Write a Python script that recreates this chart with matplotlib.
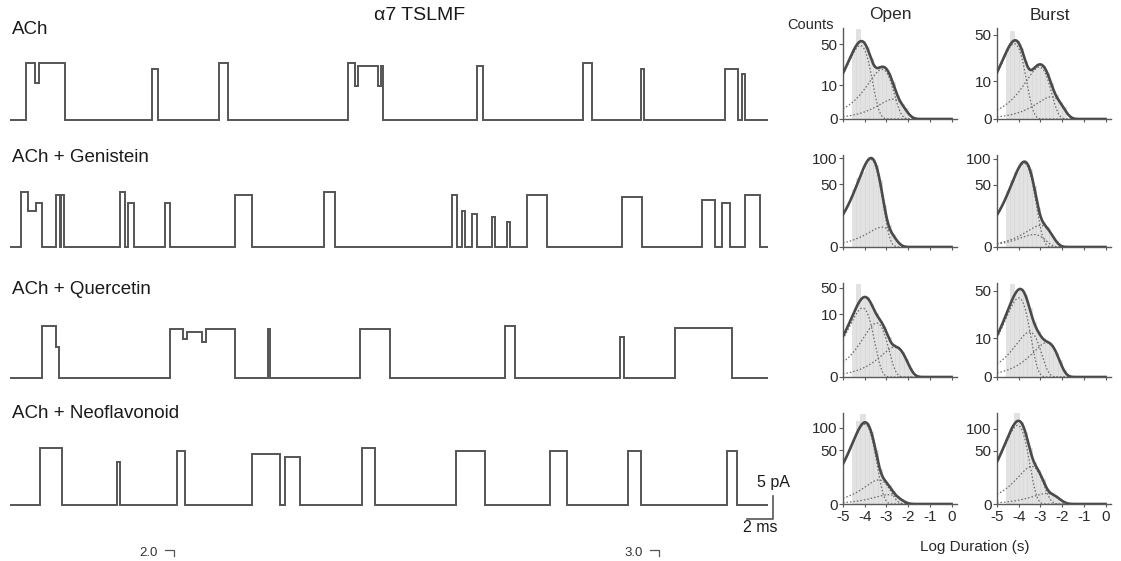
import numpy as np
import matplotlib.pyplot as plt

plt.rcParams['font.family'] = ['Liberation Sans', 'DejaVu Sans']
plt.rcParams['axes.unicode_minus'] = False

W, H = 1121, 561
fig = plt.figure(figsize=(W / 100, H / 100), dpi=100)


def px_axes(x0, y0, x1, y1):
    # axes placed by pixel box (left, top, right, bottom)
    return fig.add_axes([x0 / W, 1 - y1 / H, (x1 - x0) / W, (y1 - y0) / H])


# ---------------- single-channel traces ----------------
# openings: (start ms, end ms, fraction of full amplitude)
trace_names = ["ACh", "ACh + Genistein", "ACh + Quercetin", "ACh + Neoflavonoid"]
trace_amp = [12.4, 12.0, 11.2, 12.4]  # pA
trace_len = 58.3  # ms

ach_events = [(1.23, 1.9, 1.0), (1.9, 2.2, 0.65), (2.2, 4.23, 1.0),
              (10.9, 11.4, 0.9), (16.1, 16.8, 1.0),
              (26.0, 26.5, 1.0), (26.5, 26.8, 0.6), (26.8, 28.3, 0.95),
              (28.3, 28.5, 0.6), (28.5, 28.7, 0.95),
              (35.9, 36.4, 0.95), (44.1, 44.8, 1.0), (48.5, 48.8, 0.9),
              (55.0, 56.0, 0.9), (56.3, 56.5, 0.8)]
gen_events = [(0.85, 1.4, 1.0), (1.4, 2.0, 0.65), (2.0, 2.46, 0.8),
              (3.54, 3.85, 0.95), (3.92, 4.15, 0.95),
              (8.46, 8.85, 1.0), (9.08, 9.54, 0.8), (11.92, 12.31, 0.8),
              (17.31, 18.62, 0.95), (24.15, 25.0, 1.0),
              (34.0, 34.4, 0.95), (34.77, 35.0, 0.65), (35.54, 35.92, 0.6),
              (37.08, 37.31, 0.55), (38.23, 38.46, 0.45),
              (39.77, 41.31, 0.95), (47.08, 48.62, 0.9),
              (53.23, 54.23, 0.85), (54.77, 55.38, 0.8), (56.54, 57.69, 0.95)]
que_events = [(2.46, 3.5, 1.0), (3.5, 3.77, 0.6),
              (12.31, 13.3, 0.95), (13.3, 13.6, 0.75), (13.6, 14.8, 0.9),
              (14.8, 15.1, 0.7), (15.1, 17.31, 0.95),
              (19.85, 20.0, 0.95), (26.9, 29.2, 0.95), (38.1, 38.85, 1.0),
              (46.9, 47.2, 0.8), (51.15, 55.5, 0.97)]
neo_events = [(2.3, 4.0, 1.0), (8.23, 8.46, 0.75), (12.85, 13.46, 0.95),
              (18.6, 20.8, 0.9), (21.15, 22.3, 0.85), (27.1, 28.1, 1.0),
              (34.3, 36.5, 0.95), (41.5, 42.85, 0.95), (47.5, 48.5, 0.95),
              (55.15, 55.9, 0.95)]
trace_events = [ach_events, gen_events, que_events, neo_events]

# baseline pixel row of each trace and label position
trace_base_px = [120, 247, 378, 505]
label_y_px = [30, 158, 290, 413]
px_per_pa = 4.6


def to_stairs(events, total):
    edges, vals, t = [0.0], [], 0.0
    for s, e, a in events:
        if s > t:
            vals.append(0.0)
            edges.append(s)
        vals.append(a)
        edges.append(e)
        t = e
    vals.append(0.0)
    edges.append(total)
    return np.array(vals), np.array(edges)


for i in range(4):
    b = trace_base_px[i]
    ax = px_axes(10, b - 16 * px_per_pa, 768, b + 4 * px_per_pa)
    vals, edges = to_stairs(trace_events[i], trace_len)
    ax.stairs(vals * trace_amp[i], edges, baseline=None, color='#555555', lw=1.4)
    ax.set_xlim(0, trace_len)
    ax.set_ylim(-4, 16)
    ax.axis('off')
    fig.text(12 / W, 1 - label_y_px[i] / H, trace_names[i], fontsize=13.5,
             color='#1a1a1a', ha='left', va='center')
    if i == 3:
        # scale bar 5 pA / 2 ms
        ax.plot([56.7, 58.7, 58.7], [-3, -3, 2], color='#555555', lw=1.2,
                clip_on=False)

fig.text(420 / W, 1 - 15 / H, "\u03b17 TSLMF", fontsize=14, color='#1a1a1a',
         ha='center', va='center')
fig.text(757 / W, 1 - 483 / H, "5 pA", fontsize=11.5, color='#1a1a1a',
         ha='left', va='center')
fig.text(760 / W, 1 - 528 / H, "2 ms", fontsize=11.5, color='#1a1a1a',
         ha='center', va='center')

# labels of the panel below (partly visible at the bottom edge)
fig.text(149 / W, 1 - 553 / H, "2.0", fontsize=9.5, color='#333333',
         ha='center', va='center')
fig.text(634 / W, 1 - 553 / H, "3.0", fontsize=9.5, color='#333333',
         ha='center', va='center')
for xa in (165, 650):
    fig.add_artist(plt.Line2D([xa / W, (xa + 9) / W, (xa + 9) / W],
                              [1 - 550 / H, 1 - 550 / H, 1 - 556 / H],
                              color='#555555', lw=0.9))

# ---------------- dwell-time histograms ----------------
bin_centers = [-4.5, -4.3, -4.1, -3.9, -3.7, -3.5, -3.3, -3.1, -2.9, -2.7,
               -2.5, -2.3, -2.1, -1.9]

open_counts = [
    [44, 72, 54, 46, 33, 22, 25, 23, 19, 12, 5, 2, 1, 0],
    [42, 60, 72, 92, 99, 86, 56, 22, 6, 2, 0.5, 0, 0, 0],
    [26, 54, 40, 40, 34, 26, 20, 16, 10, 7, 6, 4, 2, 0.5],
    [71, 120, 140, 113, 89, 50, 21, 10, 6, 3, 1, 0.3, 0, 0],
]
burst_counts = [
    [35, 55, 43, 36, 24, 17, 18, 21, 20, 15, 9, 4, 2, 1],
    [40, 58, 72, 88, 93, 79, 48, 20, 8, 5, 2, 0.5, 0, 0],
    [30, 58, 49, 52, 45, 32, 20, 14, 10, 8, 7, 4, 2, 0.3],
    [80, 104, 150, 118, 93, 56, 32, 20, 11, 4, 2, 1, 0.4, 0],
]

# fitted exponential components: log10(tau) and peak height (counts)
open_log_tau = [[-4.2, -3.2, -2.7], [-3.72, -3.2], [-4.1, -3.45, -2.6],
                [-4.0, -3.35, -2.9]]
open_peak = [[48, 22, 3.5], [97, 5], [30, 18.4, 5.7], [110, 10, 1.5]]
burst_log_tau = [[-4.2, -3.05, -2.5], [-3.75, -3.0, -3.3], [-4.0, -3.5, -2.7],
                 [-4.05, -3.4, -2.7]]
burst_peak = [[40, 19, 3.5], [90, 6, 2], [42, 13.6, 8], [110, 25, 2]]

open_ylim = [73.7, 107, 55.7, 143]
burst_ylim = [58.5, 109, 59.4, 147]
open_ticks = [[0, 10, 50], [0, 50, 100], [0, 25, 50], [0, 50, 100]]
open_ticklabels = [["0", "10", "50"], ["0", "50", "100"], ["0", "10", "50"],
                   ["0", "50", "100"]]
burst_ticks = [[0, 10, 50], [0, 50, 100], [0, 10, 50], [0, 50, 100]]
burst_ticklabels = [["0", "10", "50"], ["0", "50", "100"], ["0", "10", "50"],
                    ["0", "50", "100"]]
x_ticks = [-5, -4, -3, -2, -1, 0]

row_top = [28, 155, 283, 413]
row_bottom = [119, 247, 377, 504]
col_left = [843, 997]

logt = np.linspace(-5, 0, 400)


def component(log_tau, peak):
    u = np.log(10) * (logt - log_tau)
    return peak * np.exp(1 + u - np.exp(u))


def draw_hist(ax, counts, taus, peaks, ytop, ticks, ticklabels, last_row):
    ax.set_yscale('function', functions=(lambda v: np.sqrt(np.clip(v, 0, None)),
                                         np.square))
    ax.bar(bin_centers, counts, width=0.2, color='#e2e2e2', edgecolor='#d6d6d6',
           lw=0.4, zorder=1)
    total = np.zeros_like(logt)
    for tau, pk in zip(taus, peaks):
        comp = component(tau, pk)
        total += comp
        ax.plot(logt, comp, color='#6a6a6a', lw=0.9, ls=(0, (1.2, 1.6)), zorder=2)
    ax.plot(logt, total, color='#4a4a4a', lw=1.9, zorder=3)
    ax.set_xlim(-5, 0.25)
    ax.set_ylim(0, ytop)
    ax.set_yticks(ticks)
    ax.set_yticklabels(ticklabels)
    ax.set_xticks(x_ticks)
    if last_row:
        ax.set_xticklabels([str(v) for v in x_ticks])
    else:
        ax.set_xticklabels([])
    for side in ('top', 'right'):
        ax.spines[side].set_visible(False)
    for side in ('left', 'bottom'):
        ax.spines[side].set_color('#5a5a5a')
        ax.spines[side].set_linewidth(1.0)
    ax.tick_params(axis='y', length=3, width=0.8, color='#5a5a5a', pad=1,
                   labelsize=11, labelcolor='#2a2a2a')
    ax.tick_params(axis='x', length=2.5, width=0.8, color='#5a5a5a', pad=2,
                   labelsize=11, labelcolor='#2a2a2a')
    ax.patch.set_alpha(0)


for r in range(4):
    ax_o = px_axes(col_left[0], row_top[r], col_left[0] + 114, row_bottom[r])
    draw_hist(ax_o, open_counts[r], open_log_tau[r], open_peak[r], open_ylim[r],
              open_ticks[r], open_ticklabels[r], r == 3)
    ax_b = px_axes(col_left[1], row_top[r], col_left[1] + 114, row_bottom[r])
    draw_hist(ax_b, burst_counts[r], burst_log_tau[r], burst_peak[r],
              burst_ylim[r], burst_ticks[r], burst_ticklabels[r], r == 3)

fig.text(890 / W, 1 - 15 / H, "Open", fontsize=12.5, color='#2a2a2a',
         ha='center', va='center')
fig.text(1050 / W, 1 - 15 / H, "Burst", fontsize=12.5, color='#2a2a2a',
         ha='center', va='center')
fig.text(811 / W, 1 - 25 / H, "Counts", fontsize=10.5, color='#2a2a2a',
         ha='center', va='center')
fig.text(975 / W, 1 - 547 / H, "Log Duration (s)", fontsize=11, color='#2a2a2a',
         ha='center', va='center')

fig.savefig("out.png", dpi=100)
